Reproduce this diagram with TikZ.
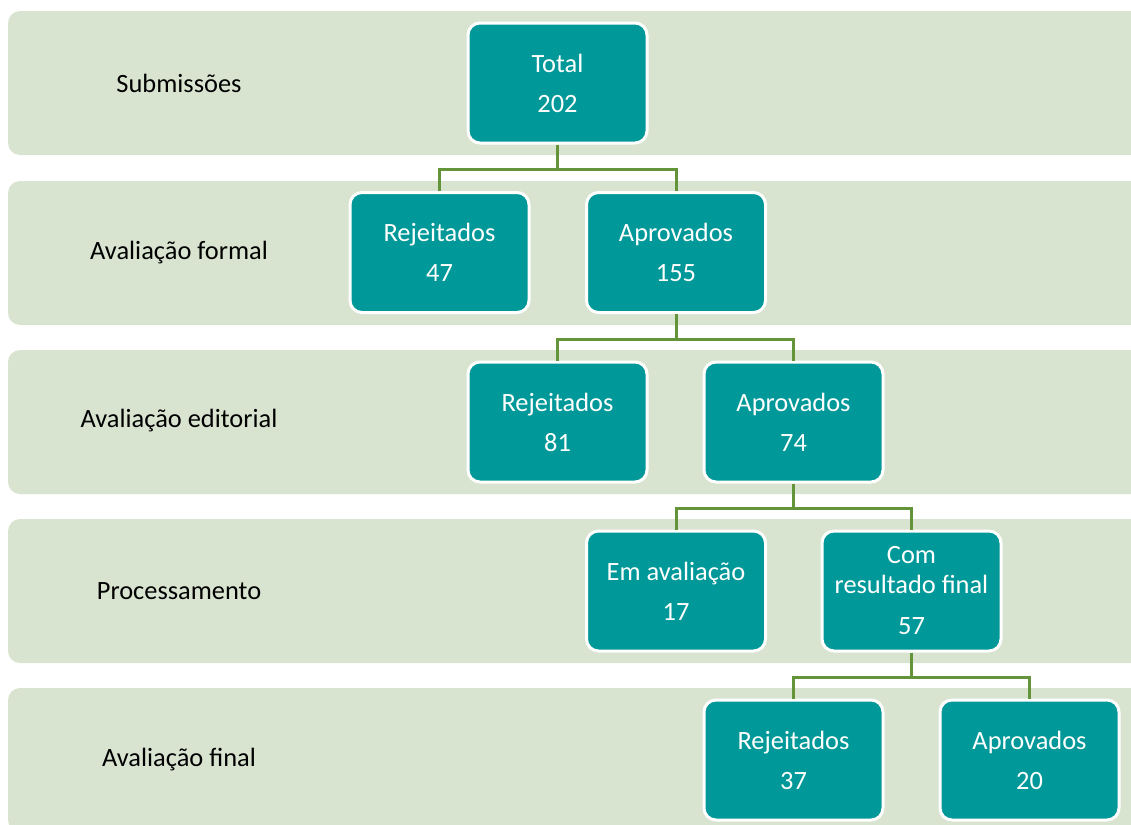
\documentclass[tikz,border=0pt]{standalone}
\usepackage{fontspec}
\setmainfont{Carlito}
\usepackage{tikz}
\usetikzlibrary{positioning}
\usepackage{xcolor}
\definecolor{bandgreen}{RGB}{216,228,208}
\definecolor{boxteal}{RGB}{0,152,152}
\definecolor{linkgreen}{RGB}{100,148,58}

\begin{document}
\begin{tikzpicture}[x=0.5pt, y=-0.5pt,
    band/.style={fill=bandgreen, draw=none, rounded corners=6pt},
    stage/.style={text=black, font=\fontsize{13.2}{15}\selectfont},
    box/.style={draw=white, line width=1.5pt, fill=boxteal, rounded corners=6pt,
                minimum width=89.5pt, minimum height=60pt, inner sep=0pt,
                text=white, align=center, font=\fontsize{13.2}{15}\selectfont},
    link/.style={draw=linkgreen, line width=1.5pt}]
                \useasboundingbox (0,0) rectangle (1131,825);
                \clip (0,0) rectangle (1131,825);

                % Background rows
                \foreach \top in {11,181,350,519,688}
                    \fill[band] (8,\top) rectangle (1150,\top+144);

                % Row labels
                \node[stage] (lsub) at (179,83) {Submissões};
                \node[stage] (lform) at (179,253) {Avaliação formal};
                \node[stage] (ledit) at (179,421) {Avaliação editorial};
                \node[stage] (lproc) at (179,591) {Processamento};
                \node[stage] (lfin) at (179,760) {Avaliação final};

                % Row 1: submissions
                \node[box] (total) at (557.5,83) {Total\\[5pt]202};

                % Row 2: formal review
                \node[box] (rejform) at (439.5,252.5) {Rejeitados\\[5pt]47};
                \node[box] (aprform) at (676,252.5) {Aprovados\\[5pt]155};

                % Row 3: editorial review
                \node[box] (rejedit) at (557.5,422) {Rejeitados\\[5pt]81};
                \node[box] (apredit) at (793.5,422) {Aprovados\\[5pt]74};

                % Row 4: processing
                \node[box] (emaval) at (676,591) {Em avaliação\\[5pt]17};
                \node[box] (comres) at (911.5,591) {Com\\resultado final\\[5.5pt]57};

                % Row 5: final review
                \node[box] (rejfin) at (793.5,760) {Rejeitados\\[5pt]37};
                \node[box] (aprfin) at (1029.5,760) {Aprovados\\[5pt]20};

                % Connectors
                \draw[link] (total.south) -- ++(0,25) -| (rejform.north);
                \draw[link] (total.south) -- ++(0,25) -| (aprform.north);
                \draw[link] (aprform.south) -- ++(0,25) -| (rejedit.north);
                \draw[link] (aprform.south) -- ++(0,25) -| (apredit.north);
                \draw[link] (apredit.south) -- ++(0,25) -| (emaval.north);
                \draw[link] (apredit.south) -- ++(0,25) -| (comres.north);
                \draw[link] (comres.south) -- ++(0,25) -| (rejfin.north);
                \draw[link] (comres.south) -- ++(0,25) -| (aprfin.north);
            \end{tikzpicture}
\end{document}
